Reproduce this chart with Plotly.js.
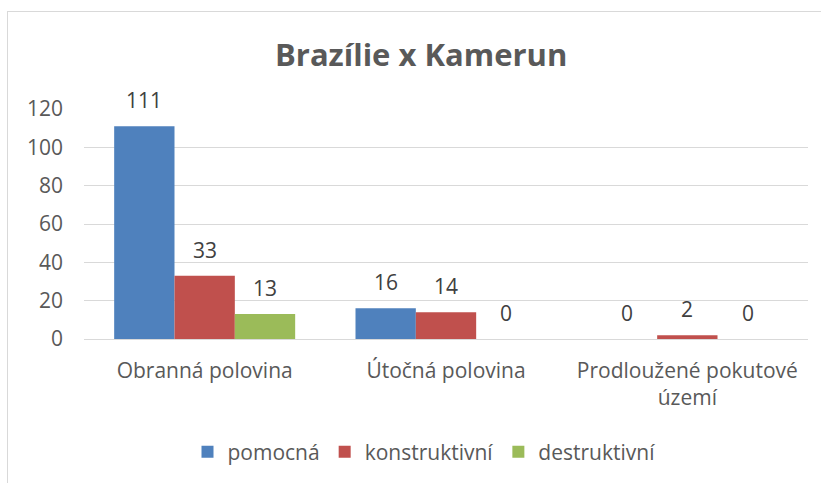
<!DOCTYPE html>
<html>
<head>
<meta charset="utf-8">
<script src="https://cdn.plot.ly/plotly-3.0.1.min.js"></script>
<style>
html,body{margin:0;padding:0;background:#fff;overflow:hidden;}
#frame{position:absolute;left:7px;top:11px;width:900px;height:600px;border:1px solid #d9d9d9;box-sizing:border-box;}
#chart{position:absolute;left:0;top:0;width:821px;height:483px;}
</style>
</head>
<body>
<div id="frame"></div>
<div id="chart"></div>
<script>
const categories = ["Obranná polovina", "Útočná polovina", "Prodloužené pokutové<br>území"];
const seriesNames = ["pomocná", "konstruktivní", "destruktivní"];
const pomocna = [111, 16, 0];
const konstruktivni = [33, 14, 2];
const destruktivni = [13, 0, 0];
const yTicks = [0, 20, 40, 60, 80, 100, 120];
const colors = ["#4F81BD", "#C0504D", "#9BBB59"];

const FONT = "'Open Sans', Lato, sans-serif";
const seriesValues = [pomocna, konstruktivni, destruktivni];
const bargap = 0.25;
const barW = (1 - bargap) / seriesValues.length;

const traces = seriesValues.map((vals, j) => ({
  type: "bar",
  name: seriesNames[j],
  x: categories,
  y: vals,
  marker: {color: colors[j]},
  hoverinfo: "x+y+name"
}));

const annotations = [];
seriesValues.forEach((vals, j) => {
  vals.forEach((v, i) => {
    annotations.push({
      x: i + (j - (seriesValues.length - 1) / 2) * barW,
      y: v,
      xref: "x", yref: "y",
      text: String(v),
      showarrow: false,
      yanchor: "middle",
      yshift: 26,
      font: {family: FONT, size: 21, color: "#404040"}
    });
  });
});

const layout = {
  width: 821, height: 483,
  paper_bgcolor: "rgba(0,0,0,0)",
  plot_bgcolor: "rgba(0,0,0,0)",
  margin: {l: 84, r: 13, t: 109, b: 143},
  barmode: "group",
  bargap: bargap,
  bargroupgap: 0,
  title: {
    text: "<b>Brazílie x Kamerun</b>",
    font: {family: FONT, size: 31, color: "#595959"},
    x: 0.513, xanchor: "center",
    y: 1 - 55 / 483, yanchor: "middle"
  },
  xaxis: {
    type: "category",
    showgrid: false,
    showline: false,
    ticks: "",
    tickfont: {family: FONT, size: 21, color: "#595959"},
    ticklabelstandoff: 17
  },
  yaxis: {
    range: [0, 120],
    tickvals: yTicks,
    ticktext: yTicks.map(String),
    showgrid: true,
    gridcolor: "#d9d9d9",
    gridwidth: 1,
    zeroline: true,
    zerolinecolor: "#d9d9d9",
    zerolinewidth: 1,
    showline: false,
    ticks: "",
    tickfont: {family: FONT, size: 21, color: "#595959"},
    ticklabelstandoff: 20
  },
  showlegend: true,
  legend: {
    orientation: "h",
    x: (424 - 84) / 724, xanchor: "center",
    y: -(452 - 340) / 231, yanchor: "middle",
    font: {family: FONT, size: 21, color: "#595959"},
    itemclick: false
  },
  annotations: annotations
};

Plotly.newPlot("chart", traces, layout, {displayModeBar: false, staticPlot: true});
</script>
</body>
</html>
